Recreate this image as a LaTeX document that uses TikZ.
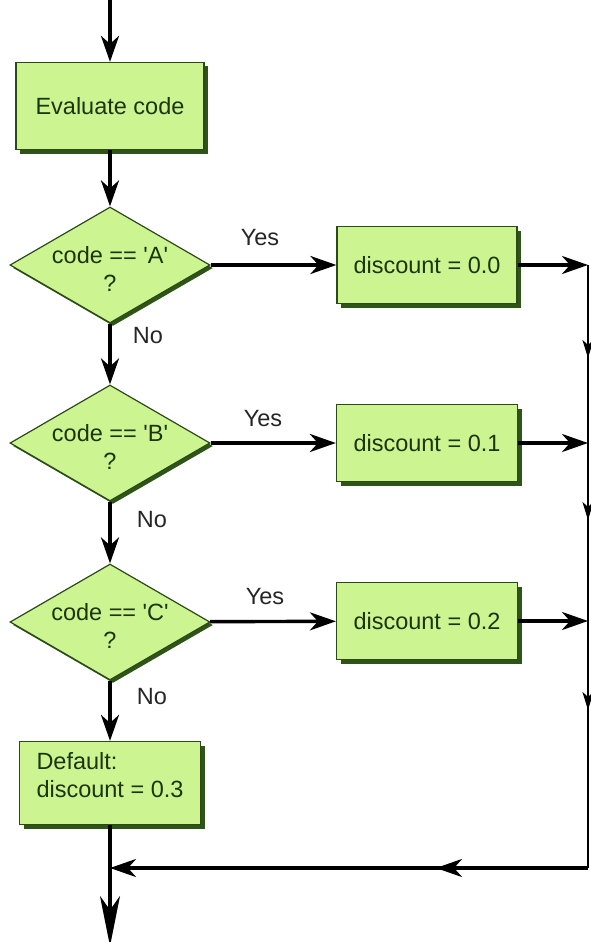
\documentclass[tikz,border=0pt]{standalone}
\usepackage{fontspec}
\setmainfont{Liberation Sans}
\usetikzlibrary{arrows.meta,shapes.geometric,shadows,decorations.markings}
\definecolor{boxfill}{HTML}{CCF592}
\definecolor{boxedge}{HTML}{2B4A17}
\definecolor{boxshade}{HTML}{2F5419}
\definecolor{boxtext}{HTML}{1B360E}
\newcommand\sq{\textquotesingle}
\tikzset{
  flowtip/.tip={Stealth[length=26pt,width=18pt,inset=8pt]},
  railtip/.tip={Stealth[length=18pt,width=11pt,inset=5pt]},
  longtip/.tip={Stealth[length=50pt,width=20pt,inset=14pt]}}
\begin{document}
\begin{tikzpicture}[x=1pt,y=-1pt,
  font=\fontsize{23.5}{28.5}\selectfont,
  greenshadow/.style={drop shadow={shadow xshift=4pt,shadow yshift=-4pt,fill=boxshade,opacity=1}},
  proc/.style={rectangle,draw=boxedge,line width=1.2pt,fill=boxfill,text=boxtext,
    inner sep=0pt,greenshadow},
  decide/.style={diamond,draw=boxedge,line width=1.2pt,fill=boxfill,
    inner sep=0pt,minimum width=200pt,minimum height=116pt,
    drop shadow={shadow xshift=3pt,shadow yshift=-3pt,fill=boxshade,opacity=1}},
  question/.style={text=boxtext,align=center,inner sep=0pt},
  flow/.style={line width=3.4pt,-flowtip},
  rail/.style={line width=2pt},
  lbl/.style={text=black!85}
]
\useasboundingbox (0,0) rectangle (590,942);

% process boxes and decisions
\node[proc,minimum width=188pt,minimum height=87pt] (eval) at (110,106) {Evaluate code};
\node[decide,label={[question,yshift=-4pt]center:code == \sq A\sq\\?}] (qa) at (110,265) {};
\node[decide,label={[question,yshift=-4pt]center:code == \sq B\sq\\?}] (qb) at (110,443) {};
\node[decide,label={[question,yshift=-4pt]center:code == \sq C\sq\\?}] (qc) at (110,622) {};
\node[proc,minimum width=180pt,minimum height=77pt] (da) at (427,265) {discount = 0.0};
\node[proc,minimum width=181pt,minimum height=77pt] (db) at (427,443) {discount = 0.1};
\node[proc,minimum width=181pt,minimum height=77pt] (dc) at (427,621) {discount = 0.2};
\node[proc,align=left,minimum width=181pt,minimum height=83pt] (dd) at (110,783)
  {Default:\\discount = 0.3\rule[-16pt]{0pt}{16pt}};

% free ends of the connectors
\coordinate (start) at (110,0);
\coordinate (ra) at (588,265);
\coordinate (rb) at (588,443);
\coordinate (rc) at (588,621);
\coordinate (corner) at (588,868);
\coordinate (merge) at (110,868);
\coordinate (exit) at (110,946);

% main column
\draw[flow] (start) -- (eval);
\draw[flow] (eval) -- (qa);
\draw[flow] (qa) -- (qb);
\draw[flow] (qb) -- (qc);
\draw[flow] (qc) -- (dd);
\draw[line width=3.4pt,-longtip] (dd) -- (exit);

% yes branches
\draw[flow] (qa) -- (da);
\draw[flow] (qb) -- (db);
\draw[flow] (qc) -- (dc);
\draw[flow] (da) -- (ra);
\draw[flow] (db) -- (rb);
\draw[flow] (dc) -- (rc);

% return rail
\draw[rail,decoration={markings,
    mark=at position 93pt with {\arrow{railtip}},
    mark=at position 255pt with {\arrow{railtip}},
    mark=at position 445pt with {\arrow{railtip}}},postaction={decorate}]
  (ra) -- (corner);
\draw[line width=3.4pt,decoration={markings,
    mark=at position 152pt with {\arrow{flowtip}}},postaction={decorate},-flowtip]
  (corner) -- (merge);

% branch labels
\node[lbl] (ya) at (260,238) {Yes};
\node[lbl] (yb) at (263,419) {Yes};
\node[lbl] (yc) at (265,597) {Yes};
\node[lbl] (na) at (148,336) {No};
\node[lbl] (nb) at (152,520) {No};
\node[lbl] (nc) at (152,697) {No};
\end{tikzpicture}
\end{document}
